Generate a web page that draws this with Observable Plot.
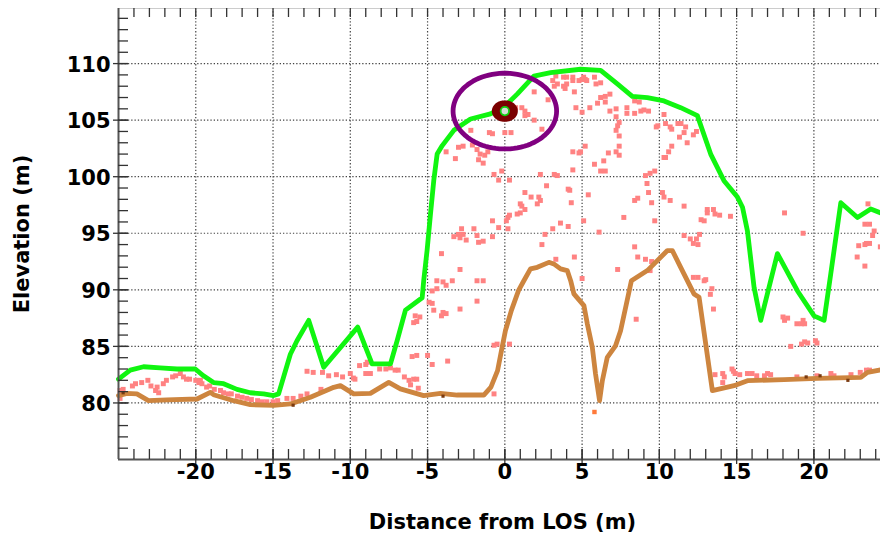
<!DOCTYPE html>
<html><head><meta charset="utf-8">
<script src="https://cdn.jsdelivr.net/npm/d3@7"></script>
<script src="https://cdn.jsdelivr.net/npm/@observablehq/plot@0.6"></script>
<style>
html,body{margin:0;padding:0;background:#fff;}
#chart svg{display:block;}
</style></head><body><div id="chart"></div>
<script>
// ---- data ----
const xTicks = [-20, -15, -10, -5, 0, 5, 10, 15, 20];
const yTicks = [80, 85, 90, 95, 100, 105, 110];

// surface (green) profile
const surfaceX = [-25.0, -24.24, -23.38, -22.3, -21.22, -20.03, -19.5, -18.85, -18.2, -17.33, -16.47, -15.61, -14.96, -14.64, -13.88, -13.45, -12.69, -11.72, -9.52, -8.59, -7.40, -6.97, -6.43, -5.35, -5.25, -5.03, -4.81, -4.60, -4.38, -4.05, -3.30, -2.22, -0.93, -0.06, 0.80, 1.88, 2.96, 4.90, 6.20, 7.28, 8.25, 9.22, 10.30, 11.38, 12.46, 13.32, 14.18, 15.05, 15.38, 15.70, 16.13, 16.56, 17.64, 18.94, 20.01, 20.66, 21.09, 21.74, 22.82, 23.68, 24.33];
const surfaceY = [82.1, 82.9, 83.2, 83.1, 83.0, 83.0, 82.4, 81.8, 81.7, 81.2, 80.9, 80.8, 80.65, 80.8, 84.3, 85.5, 87.3, 83.15, 86.7, 83.45, 83.45, 85.5, 88.2, 89.3, 90.8, 93.5, 96.7, 99.65, 102.0, 102.75, 104.1, 105.1, 105.55, 106.15, 107.3, 108.9, 109.2, 109.5, 109.4, 108.2, 107.1, 107.0, 106.7, 106.1, 105.4, 102.0, 99.65, 98.2, 97.3, 95.2, 90.2, 87.3, 93.2, 89.9, 87.7, 87.3, 91.4, 97.7, 96.4, 97.15, 96.8];

// ground (brown) profile
const groundX = [-25.0, -24.46, -23.81, -23.06, -21.87, -19.92, -19.06, -18.85, -17.55, -16.47, -14.96, -13.88, -12.58, -11.07, -10.64, -9.78, -8.70, -7.51, -6.76, -5.25, -4.16, -3.08, -1.36, -0.9, -0.47, -0.15, 0.04, 0.43, 0.89, 1.23, 1.66, 2.10, 2.85, 3.17, 3.61, 4.04, 4.26, 4.47, 5.12, 5.34, 5.66, 5.87, 6.13, 6.31, 6.63, 7.17, 7.49, 7.82, 8.19, 9.22, 10.52, 10.84, 11.38, 12.24, 12.57, 13.43, 14.83, 15.70, 18.07, 20.23, 23.04, 23.47, 24.33];
const groundY = [80.65, 80.85, 80.8, 80.2, 80.27, 80.35, 80.94, 80.73, 80.2, 79.85, 79.79, 79.91, 80.5, 81.38, 81.53, 80.8, 80.85, 81.82, 81.24, 80.65, 80.85, 80.7, 80.7, 81.4, 82.86, 85.1, 86.4, 88.2, 89.95, 90.8, 91.85, 91.99, 92.43, 92.29, 91.85, 91.7, 90.81, 89.64, 88.6, 86.98, 84.92, 82.56, 80.2, 81.97, 84.03, 85.07, 86.39, 88.45, 90.81, 91.7, 93.47, 93.47, 91.99, 89.64, 89.34, 81.09, 81.53, 81.97, 82.06, 82.18, 82.26, 82.7, 82.92];

// point cloud (pink squares) [distance, elevation]
const lidarPoints = [
[0.7,106.1],[1.1,106.1],[1.3,105.8],[1.5,105.5],[1.3,105.4],[-2.2,104.1],[-1.0,103.9],[-0.8,103.8],[0.0,103.9],[0.4,103.9],
[-3.8,102.2],[-3.2,101.6],[-3.0,102.6],[-2.7,102.7],[-2.1,102.8],[-1.8,102.4],[-1.6,102.0],[-1.3,101.9],[-1.1,102.2],[-1.7,101.5],[-1.4,101.2],[-0.7,100.2],[-0.2,100.5],[-0.4,99.7],[0.3,99.7],
[1.3,98.6],[1.7,98.2],[2.2,98.2],[2.3,97.9],[2.1,97.6],[1.0,97.6],[1.1,97.4],[1.3,97.1],[1.0,96.8],[0.8,96.7],[0.3,96.6],[0.2,96.4],[0.1,96.1],[-0.8,96.1],[-0.4,95.5],[0.2,95.4],[-2.8,95.4],[-2.0,95.4],[-3.3,94.7],[-3.0,94.9],[-2.9,94.6],[-2.7,94.9],[-2.5,94.4],[-1.8,94.8],[-1.7,94.2],[-1.4,94.3],[-0.8,94.7],[2.6,94.9],[3.1,95.4],[3.6,95.9],[4.1,95.6],[5.1,96.1],[6.1,95.1],[2.4,94.0],[3.3,92.7],[4.5,92.9],[7.3,91.8],[7.7,96.4],[8.4,97.9],[8.6,98.1],[8.4,93.8],[8.6,92.9],[-2.9,91.8],[-4.1,93.2],[-4.4,90.8],[-4.0,90.7],[-3.8,90.4],[-3.4,90.8],[-1.8,90.8],[-1.4,90.8],[-4.7,89.9],[-4.4,90.1],[5.0,91.0],[4.2,98.8],[4.3,97.7],[5.4,98.4],
[-4.9,88.9],[-4.7,88.8],[-4.6,88.2],[-4.0,88.0],[-3.8,87.9],[-4.1,87.7],[-2.9,88.3],[-1.8,89.0],[-0.7,85.1],[-0.5,85.2],[0.3,85.2],[-5.0,84.2],[-4.7,83.4],[-3.7,83.7],[-0.7,80.8],[8.5,87.4],
[3.3,108.9],[3.1,108.5],[3.4,108.2],[3.2,108.0],[3.8,108.8],[4.0,108.8],[4.4,108.8],[4.4,108.5],[3.8,108.0],[4.0,108.2],[3.9,107.8],[4.5,107.5],[4.8,108.5],[5.0,108.6],[5.2,108.6],[5.1,108.8],[5.3,108.5],[5.8,108.8],[5.9,108.2],[6.2,108.3],[1.9,107.5],[4.6,106.1],[5.0,105.7],[5.5,106.1],[6.0,106.5],[6.2,107.0],[6.5,107.1],[6.8,107.3],[6.5,106.6],[6.8,105.8],[7.2,106.0],[7.2,105.3],[7.4,104.8],[7.3,104.5],[7.2,104.1],[7.4,103.6],[7.4,102.7],[7.2,102.2],[7.4,101.9],[6.7,102.1],[6.4,101.4],[5.8,101.1],[6.2,100.5],[6.5,100.5],[4.9,102.2],[4.8,102.1],[4.4,102.2],[5.2,102.7],[4.4,100.6],[3.2,100.2],[3.4,100.1],[2.3,100.2],[2.7,99.2],[4.1,98.9],[7.9,106.1],[7.9,105.6],[8.4,105.6],[8.4,106.7],[8.7,106.6],[8.8,105.8],[9.0,105.9],[9.3,105.8],[9.8,104.4],[9.9,104.5],[10.3,105.5],[10.4,104.7],[10.7,104.4],[10.8,104.2],[11.2,104.7],[11.4,104.7],[11.7,104.4],[11.6,103.9],[11.3,103.5],[11.8,103.0],[12.2,103.7],[12.4,104.0],[10.8,102.7],[10.6,102.2],[10.4,101.7],[10.3,101.7],[9.7,100.5],[9.4,100.3],[9.1,100.1],[1.9,105.0],[2.4,104.2],[2.8,106.8],[9.2,99.4],
[9.3,98.6],[10.2,98.6],[9.5,97.7],[10.3,98.2],[10.7,97.9],[11.6,97.4],[13.1,97.1],[13.1,96.8],[13.5,97.1],[13.6,96.7],[13.9,96.6],[14.6,96.5],[12.7,96.2],[12.9,96.1],[9.7,96.1],[11.6,94.8],[12.0,94.5],[12.4,94.5],[12.6,94.9],[12.2,94.1],[12.5,94.0],[9.1,92.7],[9.5,92.5],[9.4,91.7],[12.2,91.1],[12.5,91.1],[12.9,90.8],[13.0,90.9],[13.4,90.1],[13.3,89.6],[13.5,88.3],[18.1,96.8],[19.3,95.0],[18.0,87.6],[18.1,87.3],[18.3,87.5],[18.9,87.0],[19.2,87.0],[19.3,87.3],[19.4,87.0],[18.5,85.0],[19.2,85.2],[19.4,85.4],[19.6,85.3],[20.1,85.5],[20.2,85.3],[22.8,92.9],[22.9,93.9],[23.3,94.0],[23.4,94.1],[23.6,94.1],[23.3,92.1],[24.3,93.8],[23.5,97.6],[23.3,95.8],[23.6,95.8],[23.9,95.2],[23.8,94.8],[13.6,82.5],[14.1,82.6],[14.2,82.3],[14.1,81.8],[14.7,83.0],[14.8,82.8],[14.9,82.6],[15.2,82.5],[15.7,82.6],[16.0,82.6],[16.3,82.4],[16.8,82.4],[17.0,82.6],[17.2,82.5],[18.9,82.3],[20.2,82.4],[21.1,82.6],[21.3,82.4],[22.4,82.5],[23.0,82.7],[23.4,82.9],[23.6,82.9],
[-5.8,87.7],[-5.9,87.1],[-5.7,87.2],[-5.5,87.6],[-12.8,82.8],[-12.4,82.7],[-11.8,82.7],[-11.4,82.4],[-10.9,82.5],[-10.5,82.3],[-10.0,82.6],[-9.8,82.2],[-9.7,82.1],[-9.4,83.3],[-9.0,83.4],[-8.9,83.6],[-9.0,82.6],[-8.7,82.6],[-8.1,83.0],[-7.7,83.0],[-7.4,83.1],[-7.1,82.9],[-6.9,82.9],[-6.5,82.3],[-6.2,82.0],[-5.9,82.1],[-5.7,82.1],[-5.6,81.3],[-6.1,81.6],[-11.9,81.2],[-14.1,80.4],[-13.7,80.4],[-13.2,80.6],[-12.8,80.8],[-6.0,84.1],[-5.7,84.2],
[-24.9,81.1],[-24.7,81.2],[-24.1,81.5],[-23.9,81.7],[-23.5,81.8],[-23.1,82.0],[-22.9,81.5],[-22.6,81.1],[-22.4,80.9],[-22.5,81.4],[-22.1,81.7],[-21.9,82.0],[-21.5,82.3],[-21.3,82.4],[-21.0,82.6],[-20.8,82.3],[-20.6,82.1],[-20.4,82.1],[-20.0,82.0],[-19.8,81.8],[-19.6,81.7],[-19.7,82.0],[-19.3,81.4],[-19.1,81.5],[-18.8,81.2],[-18.4,81.1],[-18.2,80.9],[-17.9,80.8],[-17.7,80.8],[-17.3,80.6],[-17.0,80.5],[-16.7,80.4],[-16.4,80.3],[-16.0,80.2],[-15.7,80.1],[-15.4,80.1],[-15.0,80.1],[-14.7,80.2],[-24.9,80.4]
];
const groundHits = [[-24.7,80.9],[-13.7,79.8],[-4.0,80.6],[19.5,82.3],[20.4,82.4],[22.2,82.0]];
const lowPoints = [[5.8,79.2]];

const target = [0, 105.8];      // observer / target position
const ringRadius = 3.35;        // search radius (m)
const markerRadius = 0.55;

// ---- layout ----
const W = 880, H = 537, ML = 118, MR = 0, MT = 8, MB = 78;
const plotW = W - ML - MR, plotH = H - MT - MB;
const xMinor = d3.range(-24, 25);
const yMinor = d3.range(76, 115);
const circlePts = (c, r) => d3.range(0, 361, 4).map(a => [c[0] + r * Math.cos(a * Math.PI / 180), c[1] + r * Math.sin(a * Math.PI / 180)]);

const surface = surfaceX.map((x, i) => ({x, y: surfaceY[i]}));
const ground = groundX.map((x, i) => ({x, y: groundY[i]}));
const font = {fontFamily: "DejaVu Sans", fontWeight: "bold", fontSize: 21, fill: "#000"};

const chart = Plot.plot({
  width: W, height: H,
  marginLeft: ML, marginRight: MR, marginTop: MT, marginBottom: MB,
  x: {domain: [-25, 24.31], axis: null},
  y: {domain: [75, 114.87], axis: null},
  style: {fontFamily: "DejaVu Sans", background: "#fff", overflow: "visible"},
  marks: [
    Plot.ruleX(xTicks, {stroke: "#444", strokeDasharray: "1.3,2", strokeWidth: 1.2}),
    Plot.ruleY(yTicks, {stroke: "#444", strokeDasharray: "1.3,2", strokeWidth: 1.2}),
    Plot.ruleY([114.87], {stroke: "#ccc", strokeWidth: 1}),
    Plot.dot(lidarPoints, {x: d => d[0], y: d => d[1], symbol: "square", r: 2.8, fill: "#ff8282", stroke: "none"}),
    Plot.dot(lowPoints, {x: d => d[0], y: d => d[1], symbol: "square", r: 2.5, fill: "#ff7a3a", stroke: "none"}),
    Plot.line(ground, {x: "x", y: "y", stroke: "#cd853f", strokeWidth: 4.8, strokeLinejoin: "round"}),
    Plot.dot(groundHits, {x: d => d[0], y: d => d[1], symbol: "square", r: 1.8, fill: "#7a3a10", stroke: "none"}),
    Plot.line(surface, {x: "x", y: "y", stroke: "#10f510", strokeWidth: 4.8, strokeLinejoin: "round"}),
    Plot.line(circlePts(target, ringRadius), {x: d => d[0], y: d => d[1], stroke: "#800080", strokeWidth: 4.8}),
    Plot.line(circlePts(target, markerRadius), {x: d => d[0], y: d => d[1], stroke: "#7a0000", strokeWidth: 9}),
    Plot.dot([target], {x: d => d[0], y: d => d[1], r: 4.2, fill: "#d6ddd6", stroke: "#10d010", strokeWidth: 1.8}),
    // axis lines
    Plot.ruleY([75], {stroke: "#555", strokeWidth: 2}),
    Plot.ruleX([-25], {stroke: "#555", strokeWidth: 2}),
    // ticks
    Plot.tickX(xMinor, {x: d => d, stroke: "#333", strokeWidth: 1.3, insetTop: plotH - 10}),
    Plot.tickX(xTicks, {x: d => d, stroke: "#333", strokeWidth: 1.3, insetTop: plotH - 10, insetBottom: -5}),
    Plot.tickX(xMinor, {x: d => d, stroke: "#333", strokeWidth: 1.3, insetBottom: plotH - 9}),
    Plot.tickY(yMinor, {y: d => d, stroke: "#333", strokeWidth: 1.3, insetRight: plotW - 10}),
    Plot.tickY(yTicks, {y: d => d, stroke: "#333", strokeWidth: 1.3, insetRight: plotW - 10, insetLeft: -5}),
    // tick labels
    Plot.text(xTicks, {x: d => d, frameAnchor: "bottom", dy: 19, text: d => String(d), ...font}),
    Plot.text(yTicks, {y: d => d, frameAnchor: "left", dx: -8, dy: 1.5, textAnchor: "end", text: d => String(d), ...font}),
    // axis titles
    Plot.text(["Distance from LOS (m)"], {frameAnchor: "bottom", dy: 69, dx: 3, textAnchor: "middle", ...font}),
    Plot.text(["Elevation (m)"], {frameAnchor: "left", dx: -96, rotate: -90, textAnchor: "middle", ...font})
  ]
});
document.getElementById("chart").append(chart);
</script></body></html>
